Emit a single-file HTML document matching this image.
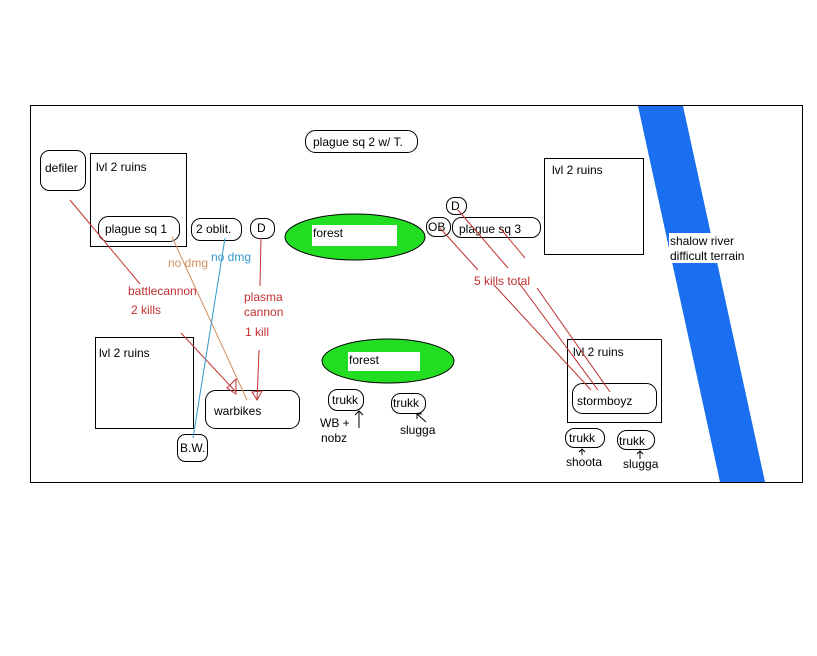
<!DOCTYPE html>
<html><head><style>body{margin:0;background:#fff}svg{display:block}text{font-family:"Liberation Sans",Arial,sans-serif;font-size:12px}</style></head><body>
<svg width="817" height="656" viewBox="0 0 817 656" xmlns="http://www.w3.org/2000/svg">
<rect x="0" y="0" width="817" height="656" fill="#fff"/>
<rect x="30.5" y="105.5" width="772" height="377" fill="none" stroke="#000"/>
<polygon points="638,106 683,106 765,482 720,482" fill="#1a6ff0"/>
<rect x="669" y="233" width="80" height="30" fill="#fff"/>
<text x="670" y="245">shalow river</text>
<text x="670" y="260">difficult terrain</text>
<g fill="none" stroke="#000">
<rect x="40.5" y="150.5" width="45" height="40" rx="9"/>
<rect x="90.5" y="153.5" width="96" height="93"/>
<rect x="98.5" y="216.5" width="81" height="25" rx="10"/>
<rect x="191.5" y="218.5" width="50" height="22" rx="9"/>
<rect x="250.5" y="218.5" width="24" height="20" rx="9"/>
<rect x="305.5" y="130.5" width="112" height="22" rx="10"/>
<rect x="95.5" y="337.5" width="98" height="91"/>
<rect x="205.5" y="390.5" width="94" height="38" rx="10"/>
<rect x="177.5" y="434.5" width="30" height="27" rx="8"/>
<rect x="328.5" y="389.5" width="35" height="21" rx="9"/>
<rect x="391.5" y="393.5" width="34" height="20" rx="9"/>
<rect x="446.5" y="197.5" width="20" height="17" rx="8"/>
<rect x="426.5" y="217.5" width="24" height="19" rx="9"/>
<rect x="452.5" y="217.5" width="88" height="20" rx="9"/>
<rect x="544.5" y="158.5" width="99" height="96"/>
<rect x="567.5" y="339.5" width="94" height="83"/>
<rect x="572.5" y="383.5" width="84" height="30" rx="10"/>
<rect x="565.5" y="428.5" width="39" height="19" rx="9"/>
<rect x="617.5" y="430.5" width="37" height="19" rx="9"/>
</g>
<ellipse cx="355" cy="237" rx="70" ry="23" fill="#22dd22" stroke="#000"/>
<rect x="312" y="225" width="85" height="21" fill="#fff"/>
<ellipse cx="388" cy="361" rx="66" ry="22" fill="#22dd22" stroke="#000"/>
<rect x="348" y="352" width="72" height="19" fill="#fff"/>
<g fill="#000">
<text x="45" y="172">defiler</text>
<text x="96" y="171">lvl 2 ruins</text>
<text x="105" y="233">plague sq 1</text>
<text x="196" y="233">2 oblit.</text>
<text x="257" y="232">D</text>
<text x="313" y="237">forest</text>
<text x="313" y="146">plague sq 2 w/ T.</text>
<text x="99" y="357">lvl 2 ruins</text>
<text x="214" y="415">warbikes</text>
<text x="180" y="452">B.W.</text>
<text x="349" y="364">forest</text>
<text x="332" y="404">trukk</text>
<text x="320" y="427">WB +</text>
<text x="321" y="442">nobz</text>
<text x="393" y="407">trukk</text>
<text x="400" y="434">slugga</text>
<text x="451" y="210">D</text>
<text x="428" y="231">OB</text>
<text x="459" y="233">plague sq 3</text>
<text x="552" y="174">lvl 2 ruins</text>
<text x="573" y="356">lvl 2 ruins</text>
<text x="577" y="405">stormboyz</text>
<text x="569" y="442">trukk</text>
<text x="566" y="466">shoota</text>
<text x="619" y="445">trukk</text>
<text x="623" y="468">slugga</text>
</g>
<g stroke="#000" fill="none">
<line x1="359" y1="428" x2="359" y2="411"/><polyline points="355,415 359,411 363,415"/>
<line x1="426" y1="422" x2="417" y2="414"/><polyline points="417,419 417,414 422,414"/>
<line x1="582" y1="455" x2="582" y2="450"/><polyline points="579,452 582,449 585,452"/>
<line x1="640" y1="459" x2="640" y2="452"/><polyline points="637,454 640,451 643,454"/>
</g>
<g stroke="#c03030" fill="none">
<line x1="70" y1="200" x2="140" y2="284"/>
<line x1="181" y1="333" x2="236" y2="392"/>
<polygon points="236,394 227,388 236,379"/>
<line x1="261" y1="238" x2="260" y2="286"/>
<line x1="259" y1="350" x2="257" y2="400"/>
<polygon points="252,392 262,391 257,400"/>
<line x1="440" y1="228" x2="478" y2="270"/>
<line x1="494" y1="285" x2="591" y2="390"/>
<line x1="458" y1="210" x2="508" y2="268"/>
<line x1="519" y1="283" x2="598" y2="390"/>
<line x1="500" y1="228" x2="525" y2="258"/>
<line x1="537" y1="288" x2="610" y2="392"/>
</g>
<line x1="172" y1="237" x2="247" y2="400" stroke="#d09060"/>
<line x1="225" y1="238" x2="193" y2="438" stroke="#3399cc"/>
<g fill="#c03030">
<text x="128" y="295">battlecannon</text>
<text x="131" y="314">2 kills</text>
<text x="244" y="301">plasma</text>
<text x="244" y="316">cannon</text>
<text x="245" y="336">1 kill</text>
<text x="474" y="285">5 kills total</text>
</g>
<text x="168" y="267" fill="#d09060">no dmg</text>
<text x="211" y="261" fill="#3399cc">no dmg</text>
</svg>
</body></html>
